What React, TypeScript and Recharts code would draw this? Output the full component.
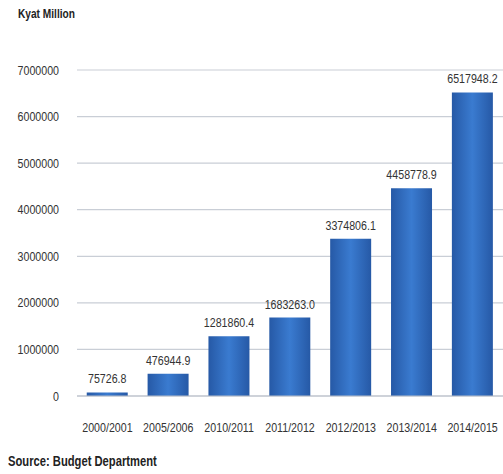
import React from 'react';
import { BarChart, Bar, XAxis, YAxis, CartesianGrid, LabelList } from 'recharts';

const categories = ['2000/2001', '2005/2006', '2010/2011', '2011/2012', '2012/2013', '2013/2014', '2014/2015'];
const values = [75726.8, 476944.9, 1281860.4, 1683263.0, 3374806.1, 4458778.9, 6517948.2];
const yTicks = [0, 1000000, 2000000, 3000000, 4000000, 5000000, 6000000, 7000000];

const data = categories.map((c, i) => ({ name: c, value: values[i] }));

const FONT = '"Liberation Sans", Arial, sans-serif';
const SX = 0.82;
const FS = 13;

const XTick = (props: any) => {
  const { x, y, payload } = props;
  return (
    <text transform={`translate(${x},${y}) scale(${SX},1)`} textAnchor="middle" dy="0.71em" fontSize={FS} fill="#333" fontFamily={FONT}>
      {payload.value}
    </text>
  );
};

const YTick = (props: any) => {
  const { x, y, payload } = props;
  return (
    <text transform={`translate(${x},${y}) scale(${SX},1)`} textAnchor="end" dy="0.355em" fontSize={FS} fill="#333" fontFamily={FONT}>
      {payload.value}
    </text>
  );
};

const BarLabel = (props: any) => {
  const { x, y, width, value } = props;
  const cx = x + width / 2;
  const cy = y - 9;
  return (
    <text transform={`translate(${cx},${cy}) scale(${SX},1)`} textAnchor="middle" fontSize={FS} fill="#333" fontFamily={FONT}>
      {Number(value).toFixed(1)}
    </text>
  );
};

export default function App() {
  return (
    <div style={{ position: 'absolute', left: 0, top: 0, width: 503, height: 474, background: '#fff', fontFamily: FONT }}>
      <div style={{ position: 'absolute', left: 18, top: 6, fontSize: 13, fontWeight: 'bold', color: '#222', transform: 'scaleX(0.78)', transformOrigin: 'left top', whiteSpace: 'nowrap' }}>Kyat Million</div>
      <div style={{ position: 'absolute', left: 8, top: 453, fontSize: 14, fontWeight: 'bold', color: '#222', transform: 'scaleX(0.8)', transformOrigin: 'left top', whiteSpace: 'nowrap' }}>Source: Budget Department</div>
      <BarChart
        width={503}
        height={474}
        data={data}
        margin={{ top: 70, right: 0, left: 0, bottom: 48 }}
        barCategoryGap="16%"
      >
        <defs>
          <linearGradient id="barGrad" x1="0" y1="0" x2="1" y2="0">
            <stop offset="0%" stopColor="#2659a6" />
            <stop offset="50%" stopColor="#3a7bd0" />
            <stop offset="100%" stopColor="#2659a6" />
          </linearGradient>
        </defs>
        <CartesianGrid vertical={false} stroke="#c9ced6" strokeWidth={1.2} />
        <XAxis
          dataKey="name"
          axisLine={{ stroke: '#b8bec8' }}
          tickLine={false}
          tickMargin={21}
          height={30}
          interval={0}
          tick={<XTick />}
        />
        <YAxis
          domain={[0, 7000000]}
          ticks={yTicks}
          axisLine={false}
          tickLine={false}
          width={77}
          tickMargin={12}
          interval={0}
          tick={<YTick />}
        />
        <Bar dataKey="value" fill="url(#barGrad)" isAnimationActive={false}>
          <LabelList dataKey="value" content={<BarLabel />} />
        </Bar>
      </BarChart>
    </div>
  );
}
